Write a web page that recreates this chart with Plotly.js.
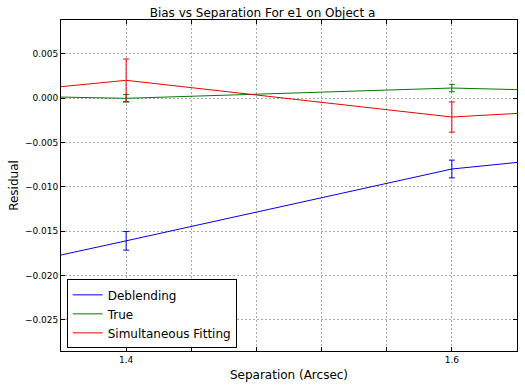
<!DOCTYPE html>
<html>
<head>
<meta charset="utf-8">
<script src="https://cdn.plot.ly/plotly-3.0.1.min.js"></script>
<style>html,body{margin:0;padding:0;background:#fff;}#chart{width:525px;height:389px;}</style>
</head>
<body>
<div id="chart"></div>
<script>
// Separation values (Arcsec); outer points lie beyond the visible range
const separation = [1.2, 1.4, 1.6, 1.8];
const deblending = [-0.0241, -0.0161, -0.0080, -0.0043];
const deblendingErr = [0, 0.00105, 0.0010, 0];
const trueVals = [0.00067, -0.00003, 0.00113, 0.00023];
const trueErr = [0, 0.00042, 0.00042, 0];
const simFit = [-0.0016, 0.0020, -0.00214, -0.0001];
const simFitErr = [0, 0.0024, 0.0017, 0];
const xTickVals = [1.4, 1.44, 1.48, 1.52, 1.56, 1.6];
const xTickText = ['1.4', '', '', '', '', '1.6'];
const yTickVals = [0.005, 0, -0.005, -0.010, -0.015, -0.020, -0.025];
const yTickText = ['0.005', '0.000', '\u22120.005', '\u22120.010', '\u22120.015', '\u22120.020', '\u22120.025'];

function series(name, y, err, color) {
  return {
    x: separation, y: y, name: name, type: 'scatter', mode: 'lines',
    line: {color: color, width: 1},
    error_y: {type: 'data', array: err, visible: true, color: color, thickness: 1, width: 3},
    cliponaxis: true
  };
}

const data = [
  series('Deblending', deblending, deblendingErr, '#0000ee'),
  series('True', trueVals, trueErr, '#007a00'),
  series('Simultaneous Fitting', simFit, simFitErr, '#ee0000')
];

const font = {family: 'DejaVu Sans, sans-serif', color: '#000'};
const layout = {
  width: 525, height: 389,
  margin: {l: 61, r: 8, t: 20, b: 38, pad: 0},
  paper_bgcolor: '#fff', plot_bgcolor: '#fff',
  font: font,
  showlegend: true,
  title: {text: 'Bias vs Separation For e1 on Object a', font: {family: font.family, size: 12, color: '#000'}, x: 0.5, xanchor: 'center', y: 1, yref: 'paper', yanchor: 'bottom', pad: {b: 3}},
  xaxis: {
    range: [1.36, 1.64], tickmode: 'array', tickvals: xTickVals, ticktext: xTickText,
    ticks: 'inside', ticklen: 4, tickcolor: '#000', mirror: 'ticks', showline: true, linecolor: '#000', linewidth: 1,
    showgrid: true, gridcolor: '#aaa', griddash: '2px,2px', gridwidth: 1, zeroline: false,
    tickfont: {family: font.family, size: 9, color: '#000'},
    title: {text: 'Separation (Arcsec)', font: {family: font.family, size: 12, color: '#000'}, standoff: 6}
  },
  yaxis: {
    range: [-0.02852, 0.0088], tickmode: 'array', tickvals: yTickVals, ticktext: yTickText,
    ticks: 'inside', ticklen: 4, tickcolor: '#000', mirror: 'ticks', showline: true, linecolor: '#000', linewidth: 1,
    showgrid: true, gridcolor: '#aaa', griddash: '2px,2px', gridwidth: 1, zeroline: false,
    tickfont: {family: font.family, size: 9, color: '#000'},
    title: {text: 'Residual', font: {family: font.family, size: 12, color: '#000'}, standoff: 3}
  },
  legend: {
    x: 0.0125, y: 0.008, xanchor: 'left', yanchor: 'bottom',
    bgcolor: '#fff', bordercolor: '#000', borderwidth: 1,
    font: {family: font.family, size: 12, color: '#000'},
    tracegroupgap: 0
  }
};

Plotly.newPlot('chart', data, layout, {displayModeBar: false, staticPlot: true});
</script>
</body>
</html>
